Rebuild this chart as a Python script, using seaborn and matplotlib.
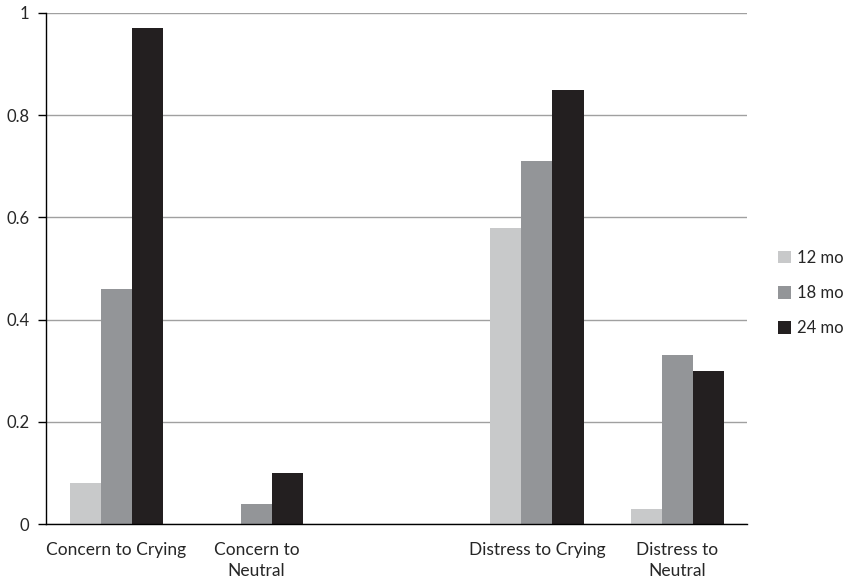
import seaborn as sns
import numpy as np
import pandas as pd
import matplotlib.pyplot as plt
from matplotlib.patches import Patch

# data
categories = ["Concern to Crying", "Concern to\nNeutral", " ", "Distress to Crying", "Distress to\nNeutral"]
ages = ["12 mo", "18 mo", "24 mo"]
vals_12 = [0.08, 0.0, 0.0, 0.58, 0.03]
vals_18 = [0.46, 0.04, 0.0, 0.71, 0.33]
vals_24 = [0.97, 0.10, 0.0, 0.85, 0.30]
colors = ["#c8c9ca", "#939598", "#231f20"]

rows = []
for age, vals in zip(ages, [vals_12, vals_18, vals_24]):
    for cat, v in zip(categories, vals):
        rows.append({"category": cat, "age": age, "value": v})
df = pd.DataFrame(rows)

sns.set_style("white")
plt.rcParams['font.family'] = ['Lato', 'DejaVu Sans']

fig = plt.figure(figsize=(8.48, 5.83), dpi=100)
ax = fig.add_axes([0.0543, 0.101, 0.827, 0.877])

sns.barplot(data=df, x="category", y="value", hue="age", order=categories,
            hue_order=ages, palette=colors, width=0.664, saturation=1,
            edgecolor="none", ax=ax, legend=False)

ax.set_xlim(-0.5, len(categories) - 0.5)
ax.set_ylim(0, 1)
ax.set_yticks(np.arange(0, 1.01, 0.2))
ax.set_yticklabels(["0", "0.2", "0.4", "0.6", "0.8", "1"], fontsize=12)
ax.yaxis.grid(True, color="#a0a0a0", linewidth=1)
ax.set_axisbelow(True)
ax.set_xlabel("")
ax.set_ylabel("")

# category labels without tick marks, ticks at category borders
ax.set_xticks(range(len(categories)))
ax.set_xticklabels(categories, fontsize=12.5, linespacing=1.35)
ax.tick_params(axis="x", length=0, pad=13)
ax.set_xticks(np.arange(-0.5, len(categories), 1), minor=True)
ax.tick_params(axis="x", which="minor", length=6, width=1, color="black", direction="out")
ax.tick_params(axis="y", length=6, width=1, color="black", direction="out", left=True, pad=6)

for s in ["top", "right"]:
    ax.spines[s].set_visible(False)
for s in ["left", "bottom"]:
    ax.spines[s].set_color("black")
    ax.spines[s].set_linewidth(1)

handles = [Patch(facecolor=c, edgecolor="none") for c in colors]
fig.legend(handles, ages, loc="center left", bbox_to_anchor=(0.918, 0.497),
           frameon=False, fontsize=12, handlelength=0.75, handleheight=0.75,
           handletextpad=0.35, labelspacing=1.15, borderpad=0, borderaxespad=0)

fig.savefig("out.png", dpi=100)
